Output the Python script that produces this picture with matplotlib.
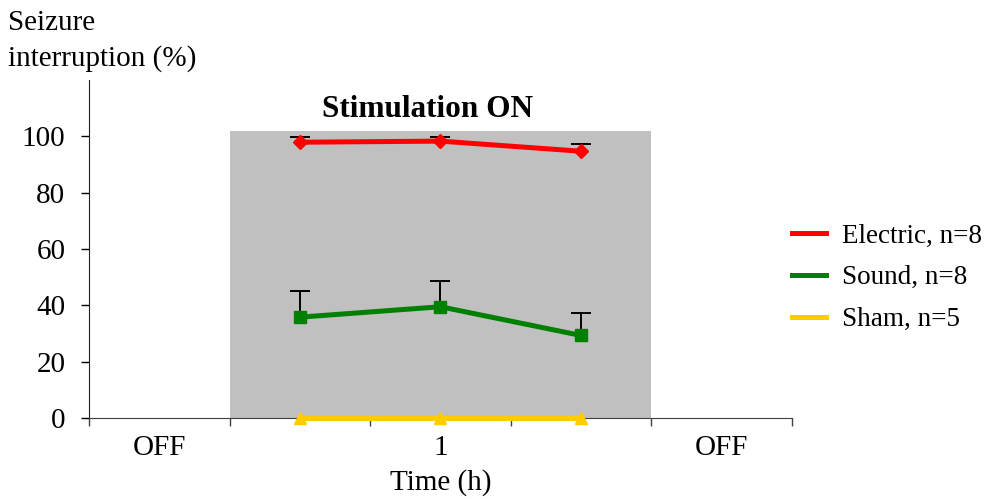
import matplotlib.pyplot as plt
import numpy as np

plt.rcParams['font.family'] = ['Liberation Serif', 'DejaVu Serif']

# categories on the x axis (5 slots, data in the middle three)
slot_labels = ["OFF", "", "1", "", "OFF"]
x_data = [1, 2, 3]

electric = [97.9, 98.3, 94.7]
electric_err = [1.7, 1.3, 2.6]
sound = [35.8, 39.5, 29.3]
sound_err = [9.4, 9.3, 8.1]
sham = [0, 0, 0]

fig = plt.figure(figsize=(9.87, 4.99), dpi=100)
ax = fig.add_axes([0.0902, 0.1623, 0.7122, 0.6774])

# stimulation window
ax.axvspan(0.5, 3.5, ymin=0, ymax=101.8 / 120, color='#c0c0c0', zorder=0, lw=0)

for vals, errs in [(electric, electric_err), (sound, sound_err)]:
    _, caps, _ = ax.errorbar(x_data, vals, yerr=[np.zeros(3), errs], fmt='none',
                             ecolor='black', elinewidth=1.4, capsize=7,
                             capthick=1.4, zorder=2)
    caps[0].set_visible(False)

ax.plot(x_data, electric, color='#ff0000', lw=3.6, marker='D', ms=7,
        label='Electric, n=8', zorder=3, clip_on=False)
ax.plot(x_data, sound, color='#008000', lw=3.6, marker='s', ms=8,
        label='Sound, n=8', zorder=3, clip_on=False)
ax.plot(x_data, sham, color='#ffcc00', lw=3.6, marker='^', ms=9,
        label='Sham, n=5', zorder=3, clip_on=False)

ax.set_xlim(-0.5, 4.5)
ax.set_ylim(0, 120)
ax.set_yticks([0, 20, 40, 60, 80, 100])
ax.tick_params(axis='y', labelsize=21, length=6, width=1, direction='out', pad=11)

ax.set_xticks(np.arange(-0.5, 5, 1))
ax.set_xticklabels([])
ax.set_xticks(range(5), minor=True)
ax.set_xticklabels(slot_labels, minor=True)
ax.tick_params(axis='x', which='major', length=6, width=1, direction='out', color='#404040')
ax.tick_params(axis='x', which='minor', length=0, labelsize=21, pad=12)

for s in ['top', 'right']:
    ax.spines[s].set_visible(False)
ax.spines['bottom'].set_color('#404040')
ax.spines['left'].set_color('#202020')

ax.set_xlabel('Time (h)', fontsize=21, labelpad=6)
fig.text(0.008, 0.855, 'Seizure\ninterruption (%)', fontsize=21, ha='left', va='bottom',
         linespacing=1.45)
ax.text(1.91, 104.5, 'Stimulation ON', fontsize=22.5, fontweight='bold',
        ha='center', va='bottom')

leg = ax.legend(loc='center left', bbox_to_anchor=(1.0, 0.415), frameon=False,
                fontsize=19.5, handlelength=1.25, handletextpad=0.6,
                labelspacing=0.62, borderaxespad=0, borderpad=0)
for h in leg.legend_handles:
    h.set_marker('')

fig.savefig('out.png', dpi=100)
